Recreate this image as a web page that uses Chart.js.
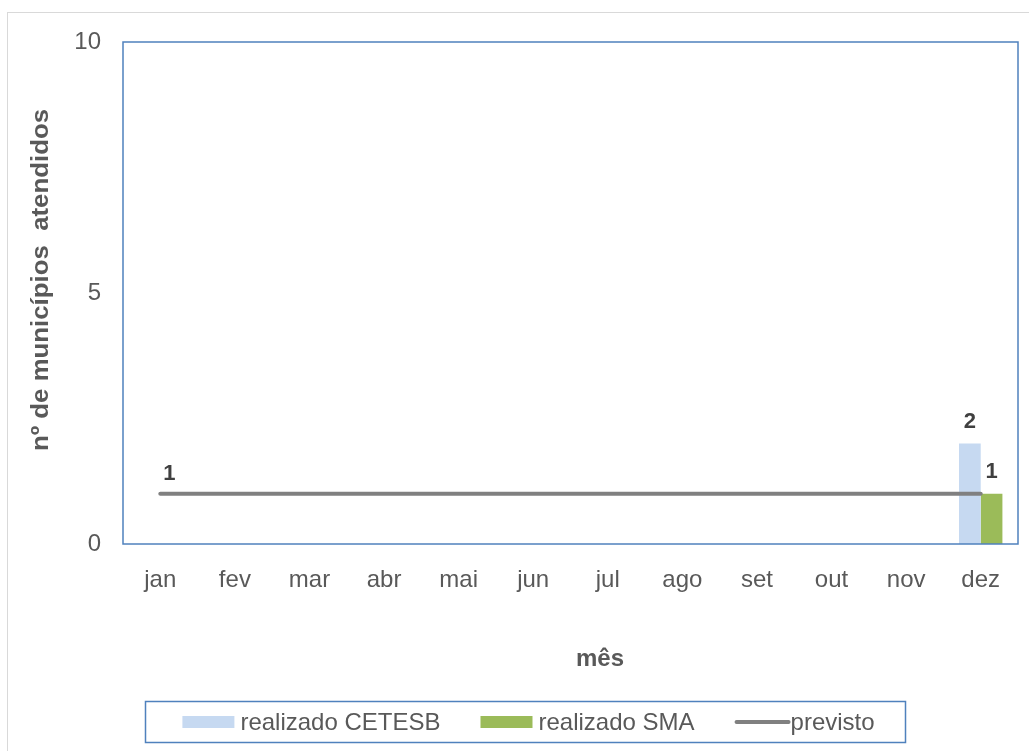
<!DOCTYPE html>
<html lang="pt">
<head>
<meta charset="utf-8">
<title>nº de municípios atendidos por mês</title>
<script src="https://cdn.jsdelivr.net/npm/chart.js@4/dist/chart.umd.min.js"></script>
<style>
  html, body { margin: 0; padding: 0; background: #ffffff; }
  canvas { display: block; }
</style>
</head>
<body>
<canvas id="grafico" width="1029" height="751"></canvas>
<script>
// Meses do ano
const months = ['jan', 'fev', 'mar', 'abr', 'mai', 'jun', 'jul', 'ago', 'set', 'out', 'nov', 'dez'];

// Municípios atendidos (realizado) por órgão
const realizadoCetesb = [null, null, null, null, null, null, null, null, null, null, null, 2];
const realizadoSma    = [null, null, null, null, null, null, null, null, null, null, null, 1];

// Meta prevista por mês
const previsto = [1, 1, 1, 1, 1, 1, 1, 1, 1, 1, 1, 1];
// Pontos da meta que recebem rótulo de valor
const previstoRotulos = [0];

// Marcas do eixo vertical
const yTicks = [0, 5, 10];

const FONT = '"Liberation Sans", Arial, sans-serif';
const TEXT = '#595959';

// Moldura externa, fundo e contorno da área de plotagem
const molduraPlugin = {
  id: 'moldura',
  beforeDraw(chart) {
    const c = chart.ctx;
    c.save();
    c.fillStyle = '#ffffff';
    c.fillRect(0, 0, chart.width, chart.height);
    c.strokeStyle = '#D9D9D9';
    c.lineWidth = 1;
    c.strokeRect(7.5, 12.5, chart.width + 20, chart.height + 20);
    c.restore();
  },
  afterDatasetsDraw(chart) {
    const a = chart.chartArea;
    const c = chart.ctx;
    c.save();
    c.strokeStyle = '#4F81BD';
    c.lineWidth = 1.5;
    c.strokeRect(a.left, a.top, a.right - a.left, a.bottom - a.top);
    c.restore();
  }
};

// Rótulos de valor sobre barras e sobre a linha prevista
const rotulosPlugin = {
  id: 'rotulos',
  afterDatasetsDraw(chart) {
    const c = chart.ctx;
    c.save();
    c.font = 'bold 22px ' + FONT;
    c.fillStyle = '#404040';
    c.textAlign = 'center';
    c.textBaseline = 'alphabetic';
    chart.data.datasets.forEach((ds, di) => {
      const meta = chart.getDatasetMeta(di);
      meta.data.forEach((el, i) => {
        const v = ds.data[i];
        if (v === null || v === undefined) return;
        if (meta.type === 'line') {
          if (!previstoRotulos.includes(i)) return;
          c.fillText(String(v), el.x + 9, el.y - 14);
        } else {
          c.fillText(String(v), el.x, el.y - 16);
        }
      });
    });
    c.restore();
  }
};

// Títulos dos eixos
const titulosPlugin = {
  id: 'titulos',
  afterDraw(chart) {
    const c = chart.ctx;
    c.save();
    c.font = 'bold 24px ' + FONT;
    c.fillStyle = TEXT;
    c.textAlign = 'center';
    c.textBaseline = 'alphabetic';
    c.fillText('mês', 600, 666);
    c.translate(48, 280);
    c.rotate(-Math.PI / 2);
    c.scale(1.075, 1);
    c.fillText('nº de municípios  atendidos', 0, 0);
    c.restore();
  }
};

// Legenda em caixa abaixo do gráfico
const legendaPlugin = {
  id: 'legenda',
  afterDraw(chart) {
    const c = chart.ctx;
    const box = { x: 145.5, y: 701.5, w: 760, h: 41 };
    c.save();
    c.strokeStyle = '#4F81BD';
    c.lineWidth = 1.5;
    c.strokeRect(box.x, box.y, box.w, box.h);
    c.font = '24px ' + FONT;
    c.textBaseline = 'middle';
    c.textAlign = 'left';
    const swatch = 52, gapText = 6, gapItem = 40;
    const items = chart.data.datasets.map(ds => ({
      label: ds.label,
      type: ds.type || 'bar',
      color: ds.type === 'line' ? ds.borderColor : ds.backgroundColor,
      w: c.measureText(ds.label).width
    }));
    const total = items.reduce((s, it) => s + swatch + gapText + it.w, 0) + gapItem * (items.length - 1);
    let x = box.x + (box.w - total) / 2 + 4;
    const cy = box.y + box.h / 2;
    items.forEach(it => {
      if (it.type === 'line') {
        c.strokeStyle = it.color;
        c.lineWidth = 4;
        c.lineCap = 'round';
        c.beginPath();
        c.moveTo(x + 2, cy);
        c.lineTo(x + swatch + 2, cy);
        c.stroke();
        x += swatch + 4;
      } else {
        c.fillStyle = it.color;
        c.fillRect(x, cy - 6, swatch, 12);
        x += swatch + gapText;
      }
      c.fillStyle = TEXT;
      c.fillText(it.label, x, cy + 1);
      x += it.w + gapItem;
    });
    c.restore();
  }
};

new Chart(document.getElementById('grafico'), {
  type: 'bar',
  data: {
    labels: months,
    datasets: [
      {
        label: 'realizado CETESB',
        data: realizadoCetesb,
        backgroundColor: '#C6D9F1',
        categoryPercentage: 0.582,
        barPercentage: 1.0,
        order: 1
      },
      {
        label: 'realizado SMA',
        data: realizadoSma,
        backgroundColor: '#9BBB59',
        categoryPercentage: 0.582,
        barPercentage: 1.0,
        order: 1
      },
      {
        type: 'line',
        label: 'previsto',
        data: previsto,
        borderColor: '#808080',
        backgroundColor: '#808080',
        borderWidth: 4,
        borderCapStyle: 'round',
        pointRadius: 0,
        fill: false,
        order: 0
      }
    ]
  },
  options: {
    responsive: false,
    animation: false,
    layout: { padding: { top: 42, right: 11, left: 0, bottom: 0 } },
    plugins: {
      legend: { display: false },
      tooltip: { enabled: false },
      title: { display: false }
    },
    scales: {
      x: {
        grid: { display: false, drawTicks: false },
        border: { display: false },
        ticks: {
          color: TEXT,
          font: { family: FONT, size: 24 },
          padding: 22,
          maxRotation: 0,
          autoSkip: false
        },
        afterFit(scale) { scale.height = 207; }
      },
      y: {
        min: 0,
        max: 10,
        grid: { display: false, drawTicks: false },
        border: { display: false },
        ticks: {
          color: TEXT,
          font: { family: FONT, size: 24 },
          padding: 22
        },
        afterBuildTicks(scale) { scale.ticks = yTicks.map(v => ({ value: v })); },
        afterFit(scale) { scale.width = 123; }
      }
    }
  },
  plugins: [molduraPlugin, rotulosPlugin, titulosPlugin, legendaPlugin]
});
</script>
</body>
</html>
